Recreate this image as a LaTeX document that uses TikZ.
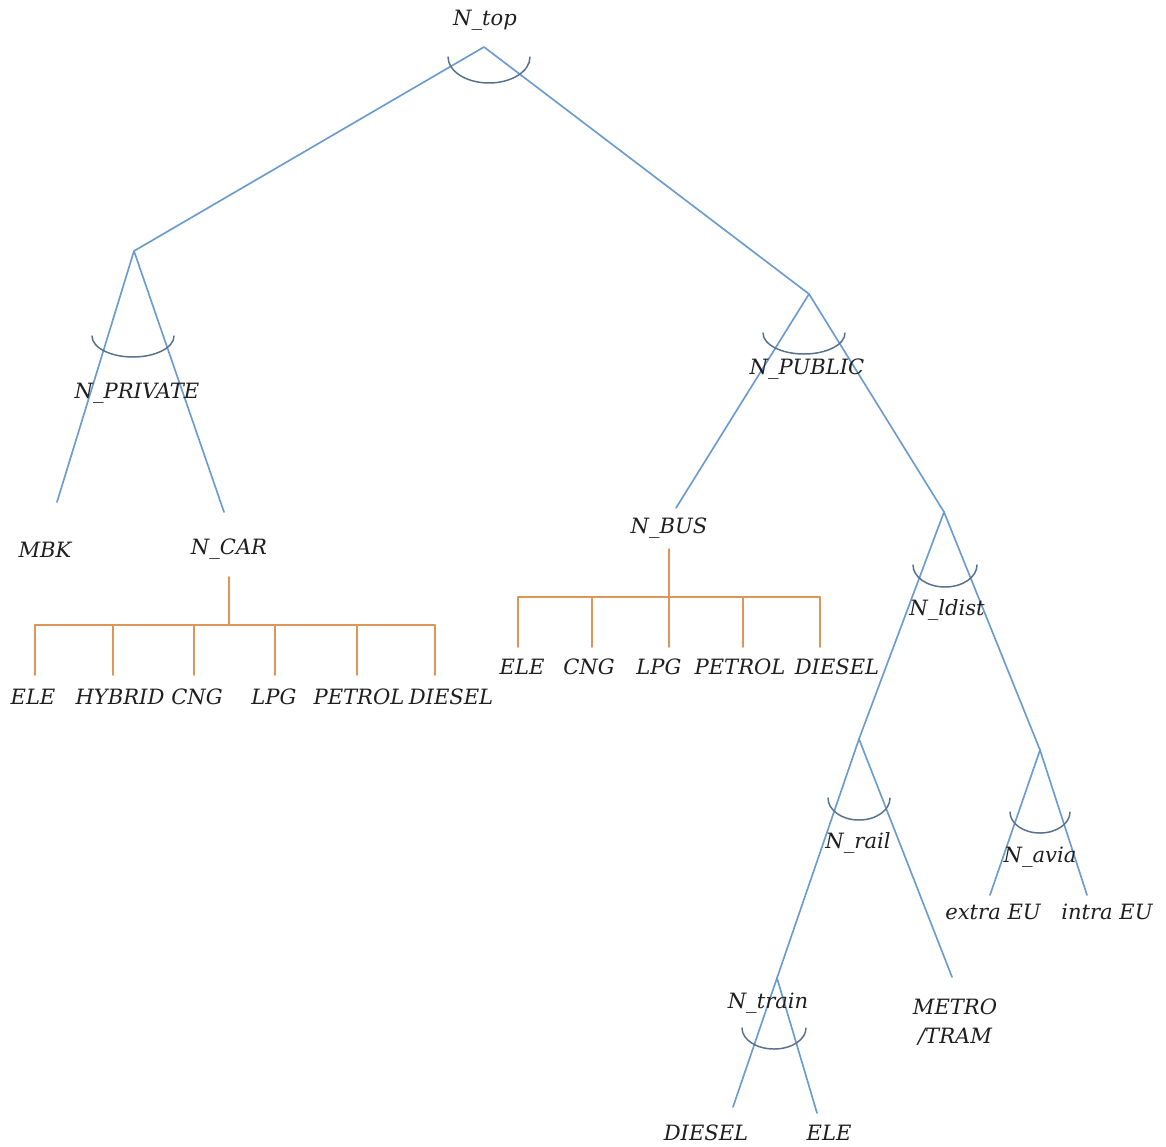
\documentclass[tikz,border=0pt]{standalone}
\usepackage{fontspec}
\setmainfont{DejaVu Serif}
\definecolor{nestblue}{RGB}{108,156,206}
\definecolor{arcgray}{RGB}{88,114,142}
\definecolor{fuelorange}{RGB}{222,150,88}
\newcommand\hingearc[3]{\draw[hinge] ([xshift=-#2*0.02cm]#1) arc[start angle=180,end angle=360,x radius=#2*0.02cm,y radius=#3*0.02cm];}
\begin{document}
\begin{tikzpicture}[x=0.02cm,y=-0.02cm, font=\itshape\fontsize{12}{16.5}\selectfont, line join=round, line cap=round,
	nest/.style={draw=nestblue, line width=0.95pt},
	hinge/.style={draw=arcgray, line width=0.85pt},
	fuel/.style={draw=fuelorange, line width=0.95pt},
	lab/.style={inner sep=1pt, text=black!88}]
	\useasboundingbox (0,0) rectangle (1166,1146);
	% branching points
	\coordinate (top) at (484,47);
	\coordinate (priv) at (134,251);
	\coordinate (pub) at (809,294);
	\coordinate (ldist) at (944,512);
	\coordinate (rail) at (859,739);
	\coordinate (avia) at (1040,750);
	\coordinate (train) at (777,978);
	% free ends
	\coordinate (mbkend) at (57,502);
	\coordinate (carend) at (224,512);
	\coordinate (busend) at (676,508);
	\coordinate (metroend) at (952,977);
	\coordinate (extraend) at (990,895);
	\coordinate (intraend) at (1087,895);
	\coordinate (dieselend) at (733,1107);
	\coordinate (eleend) at (817,1113);
	% nest lines
	\draw[nest] (priv) -- (top) -- (pub);
	\draw[nest] (mbkend) -- (priv) -- (carend);
	\draw[nest] (busend) -- (pub) -- (ldist);
	\draw[nest] (rail) -- (ldist) -- (avia);
	\draw[nest] (train) -- (rail) -- (metroend);
	\draw[nest] (extraend) -- (avia) -- (intraend);
	\draw[nest] (dieselend) -- (train) -- (eleend);
	% arcs
	\hingearc{489,57}{41}{26}
	\hingearc{133,336}{41}{21}
	\hingearc{804,333}{41}{21}
	\hingearc{945,565}{32}{22}
	\hingearc{859,798}{31}{22}
	\hingearc{1040,812}{30}{21}
	\hingearc{774,1028}{32}{21}
	% labels
	\node[lab] (ntop) at (485,20) {N\_top};
	\node[lab] (nprivate) at (137,393) {N\_PRIVATE};
	\node[lab] (mbk) at (45,550) {MBK};
	\node[lab] (ncar) at (229,549) {N\_CAR};
	\node[lab] (npublic) at (807,369) {N\_PUBLIC};
	\node[lab] (nbus) at (669,528) {N\_BUS};
	\node[lab] (nldist) at (947,610) {N\_ldist};
	\node[lab] (nrail) at (858,843) {N\_rail};
	\node[lab] (navia) at (1040,857) {N\_avia};
	\node[lab] (extra) at (993,912) {extra EU};
	\node[lab] (intra) at (1107,912) {intra EU};
	\node[lab, align=center] (metro) at (955,1022) {METRO\\/TRAM};
	\node[lab] (ntrain) at (768,1003) {N\_train};
	\node[lab] (trdiesel) at (706,1133) {DIESEL};
	\node[lab] (trele) at (829,1133) {ELE};
	% car fuels
	\coordinate (carstem) at (229,577);
	\foreach \dx/\lx/\nm/\txt in {35/33/carele/ELE,113/120/carhyb/HYBRID,194/197/carcng/CNG,275/274/carlpg/LPG,357/359/carpet/PETROL,435/451/cardsl/DIESEL}{
		\coordinate (\nm-top) at (\dx,625);
		\node[lab] (\nm) at (\lx,697) {\txt};
		\draw[fuel] (\nm-top) -- ++(0,50);
	}
	\draw[fuel] (carele-top) -- (cardsl-top);
	\draw[fuel] (carstem) -- (carstem |- carele-top);
	% bus fuels
	\coordinate (busstem) at (669,549);
	\foreach \dx/\lx/\nm/\txt in {518/522/busele/ELE,592/589/buscng/CNG,669/659/buslpg/LPG,743/740/buspet/PETROL,820/837/busdsl/DIESEL}{
		\coordinate (\nm-top) at (\dx,597);
		\node[lab] (\nm) at (\lx,667) {\txt};
		\draw[fuel] (\nm-top) -- ++(0,50);
	}
	\draw[fuel] (busele-top) -- (busdsl-top);
	\draw[fuel] (busstem) -- (busstem |- busele-top);
\end{tikzpicture}
\end{document}
